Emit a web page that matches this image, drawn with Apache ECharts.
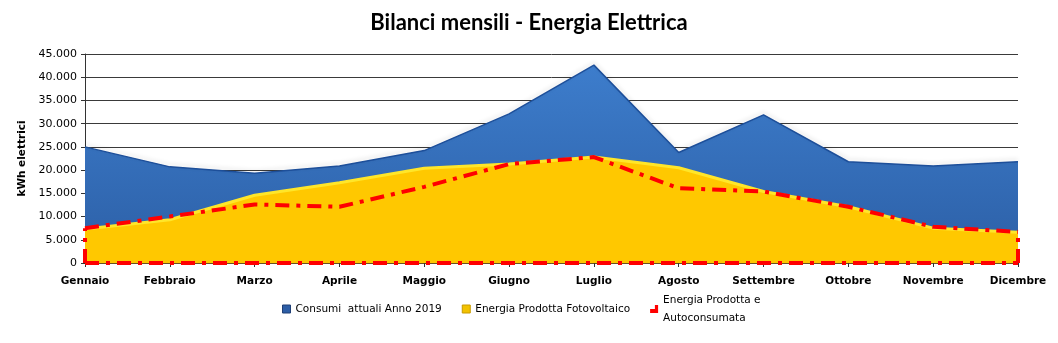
<!DOCTYPE html>
<html>
<head>
<meta charset="utf-8">
<script src="https://cdn.jsdelivr.net/npm/echarts@6/dist/echarts.min.js"></script>
<style>
  html, body { margin: 0; padding: 0; background: #fff; }
  #chart { width: 1058px; height: 343px; }
</style>
</head>
<body>
<div id="chart"></div>
<script>
// Monthly electricity balance (kWh)
const months = ['Gennaio', 'Febbraio', 'Marzo', 'Aprile', 'Maggio', 'Giugno',
  'Luglio', 'Agosto', 'Settembre', 'Ottobre', 'Novembre', 'Dicembre'];
const consumi = [25000, 20700, 19300, 20900, 24200, 32100, 42600, 23800, 31900, 21800, 20900, 21800];
const fotovoltaico = [7300, 9300, 14600, 17300, 20400, 21300, 22800, 20500, 15400, 12100, 7500, 6600];
const autoconsumata = [7500, 10000, 12600, 12100, 16400, 21300, 22800, 16100, 15400, 12100, 7800, 6700];

const nameConsumi = 'Consumi  attuali Anno 2019';
const nameFoto = 'Energia Prodotta Fotovoltaico';
const nameAuto = 'Energia Prodotta e Autoconsumata';

const redDash = { color: '#ff0000', width: 4, type: [14, 7, 4, 7] };

// legend text: one line for the first two items, two lines for the last;
// padding keeps the first line of every item level with its icon
const LH = 18;
const legendText = { fontFamily: 'DejaVu Sans', fontSize: 10.5, color: '#000', lineHeight: LH };

const chart = echarts.init(document.getElementById('chart'));
chart.setOption({
  animation: false,
  title: {
    text: 'Bilanci mensili - Energia Elettrica',
    left: 'center',
    top: 7,
    textStyle: { fontFamily: 'Lato', fontWeight: 'bold', fontSize: 22, color: '#000' }
  },
  grid: { left: 85, right: 40, top: 54, bottom: 80 },
  legend: {
    top: 282,
    left: 282,
    padding: 0,
    itemWidth: 8,
    itemHeight: 8,
    itemGap: 20,
    textStyle: legendText,
    formatter: function (n) { return n === nameAuto ? 'Energia Prodotta e\nAutoconsumata' : n; },
    data: [
      { name: nameConsumi, icon: 'rect', itemStyle: { color: '#2d5ea6', borderColor: '#1f3f75', borderWidth: 1 },
        textStyle: Object.assign({}, legendText, { padding: [LH, 0, LH, 0] }) },
      { name: nameFoto, icon: 'rect', itemStyle: { color: '#f2c200', borderColor: '#c89a00', borderWidth: 1 },
        textStyle: Object.assign({}, legendText, { padding: [LH, 0, LH, 0] }) },
      { name: nameAuto, icon: 'path://M6,0 L10,0 L10,10 L0,10 L0,5 L6,5 Z', itemStyle: { color: '#ff0000' },
        textStyle: Object.assign({}, legendText, { padding: [LH, 0, 0, 0] }) }
    ]
  },
  xAxis: {
    type: 'category',
    data: months,
    boundaryGap: false,
    axisLine: { lineStyle: { color: '#7a5a1a', width: 1.5 } },
    axisTick: { show: true, length: 4, lineStyle: { color: '#333' } },
    axisLabel: { fontFamily: 'DejaVu Sans', fontWeight: 'bold', fontSize: 10.5, color: '#000', margin: 13 }
  },
  yAxis: {
    type: 'value',
    min: 0,
    max: 45000,
    interval: 5000,
    name: 'kWh elettrici',
    nameLocation: 'middle',
    nameRotate: 90,
    nameGap: 57,
    nameTextStyle: { fontFamily: 'DejaVu Sans', fontWeight: 'bold', fontSize: 10.5, color: '#000' },
    axisLine: { show: true, lineStyle: { color: '#333' } },
    axisTick: { show: true, length: 4, lineStyle: { color: '#333' } },
    axisLabel: {
      fontFamily: 'DejaVu Sans', fontSize: 11, color: '#000', margin: 8,
      formatter: function (v) { return String(v).replace(/\B(?=(\d{3})+(?!\d))/g, '.'); }
    },
    splitLine: { lineStyle: { color: '#3a3a3a', width: 1 } }
  },
  series: [
    {
      name: nameConsumi,
      type: 'line',
      data: consumi,
      symbol: 'none',
      z: 2,
      lineStyle: { color: '#1d4f9a', width: 1.5, shadowColor: 'rgba(0,0,0,0.15)', shadowBlur: 4, shadowOffsetY: -2 },
      areaStyle: {
        opacity: 1,
        color: new echarts.graphic.LinearGradient(0, 0, 0, 1, [
          { offset: 0, color: '#3d7dcc' },
          { offset: 1, color: '#2c5fa6' }
        ])
      }
    },
    {
      name: nameFoto,
      type: 'line',
      data: fotovoltaico,
      symbol: 'none',
      z: 3,
      lineStyle: { color: '#ffe629', width: 3 },
      areaStyle: { opacity: 1, color: '#ffc800' }
    },
    {
      name: nameAuto,
      type: 'line',
      data: autoconsumata,
      symbol: 'none',
      z: 4,
      lineStyle: redDash,
      markLine: {
        silent: true,
        symbol: 'none',
        label: { show: false },
        lineStyle: redDash,
        data: [
          [{ coord: [months[0], 0] }, { coord: [months[months.length - 1], 0] }],
          [{ coord: [months[0], 0] }, { coord: [months[0], autoconsumata[0]] }],
          [{ coord: [months[months.length - 1], 0] }, { coord: [months[months.length - 1], autoconsumata[autoconsumata.length - 1]] }]
        ]
      }
    }
  ]
});
</script>
</body>
</html>
